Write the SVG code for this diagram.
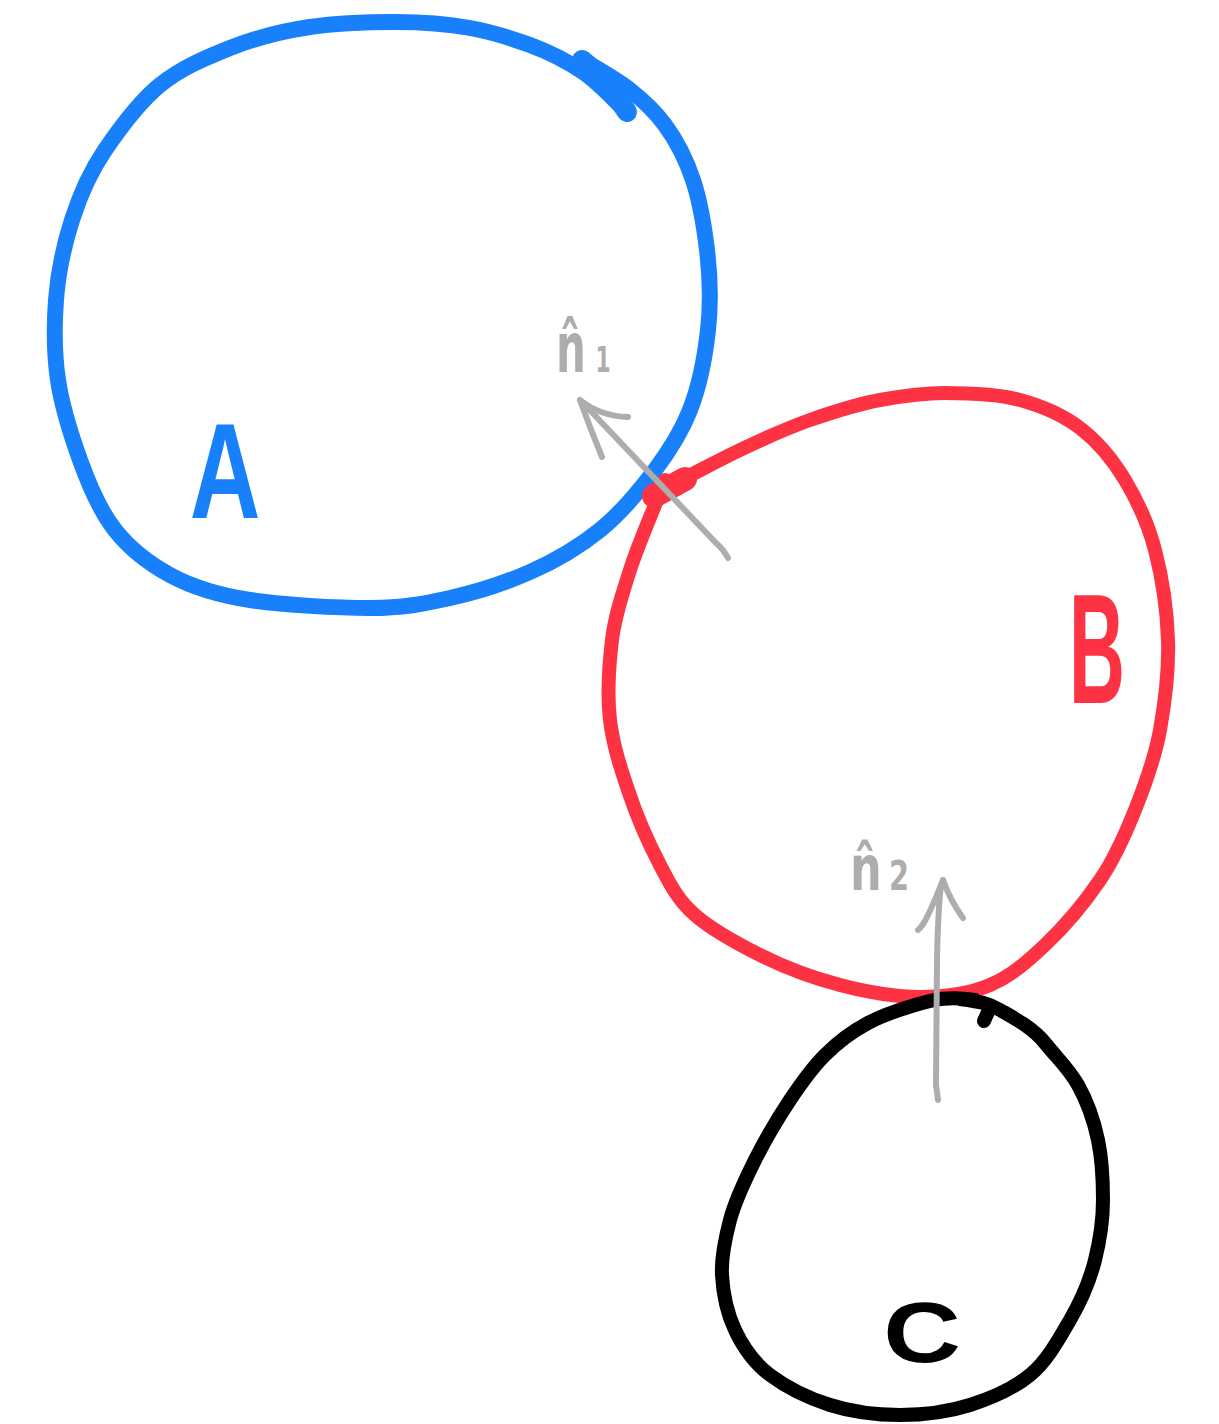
<svg xmlns="http://www.w3.org/2000/svg" width="1219" height="1424" viewBox="0 0 1219 1424">
  <style>
    .loop { fill: none; stroke-linecap: round; stroke-linejoin: round; }
    .blue { stroke: #1880fa; }
    .red { stroke: #fd3344; }
    .black { stroke: #000000; }
    .arrow { fill: none; stroke: #adadad; stroke-width: 6; stroke-linecap: round; stroke-linejoin: round; }
    .label { font-family: "Liberation Sans", "DejaVu Sans", sans-serif; font-weight: bold; text-anchor: middle; }
    .normal { font-family: "DejaVu Sans", "Liberation Sans", sans-serif; font-weight: bold; fill: #adadad; }
  </style>
  <rect width="1219" height="1424" fill="#ffffff"/>

  <!-- body A -->
  <g id="node-A">
    <path class="loop blue" stroke-width="16" d="M628,113 C613,99 599,83 583,72 S549,52 530,45 S492,32 470,28 S422,22 395,22 S337,23 310,27 S255,38 230,48 S181,68 160,85 S120,128 105,150 S80,195 72,220 S58,273 56,300 S54,353 58,380 S71,435 80,460 S100,511 115,530 S148,563 170,575 S217,595 250,600 S337,608 370,608 S423,604 450,598 S505,583 530,572 S579,547 600,530 S640,490 655,470 S681,433 690,410 S705,357 708,330 S710,275 707,250 S700,201 693,180 S676,140 665,125 S644,101 630,90 S599,70 583,60"/>
    <path class="loop blue" stroke-width="20" d="M582,60 Q605,78 627,112"/>
    <text class="label" fill="#1880fa" font-size="136" transform="translate(225,518) scale(0.72,1)">A</text>
  </g>

  <!-- body B -->
  <g id="node-B">
    <path class="loop red" stroke-width="14" d="M685,478 C703,469 719,460 740,450 S787,428 810,420 S858,404 880,400 S922,393 945,393 S998,394 1020,400 S1063,415 1080,428 S1113,460 1125,480 S1148,523 1155,550 S1167,610 1168,640 S1165,702 1160,730 S1145,785 1135,810 S1115,858 1100,880 S1063,928 1045,945 S1011,976 990,985 S945,997 920,997 S867,992 840,985 S784,967 760,955 S712,930 695,915 S671,886 660,865 S636,814 628,790 S613,745 610,720 S609,665 612,640 S623,592 630,570 S649,520 655,505 S662,488 665,480"/>
    <path class="loop red" stroke-width="24" d="M654,496 L685,479"/>
    <text class="label" fill="#fd3344" font-size="155" transform="translate(1097,703) scale(0.5,1)">B</text>
  </g>

  <!-- body C -->
  <g id="node-C">
    <path class="loop black" stroke-width="14" d="M975,1000 C950,996 935,999 915,1005 S883,1015 868,1023 S838,1042 825,1055 S802,1082 790,1100 S765,1140 755,1160 S735,1201 730,1220 S721,1257 722,1275 S727,1313 735,1330 S754,1363 770,1375 S808,1398 830,1405 S877,1415 900,1415 S948,1412 970,1405 S1013,1389 1030,1375 S1059,1339 1070,1320 S1090,1280 1095,1260 S1103,1220 1103,1200 S1102,1159 1098,1140 S1087,1101 1078,1085 S1058,1059 1045,1043 S1012,1017 1000,1010 S982,1002 960,999"/>
    <path class="loop black" stroke-width="14" d="M984,1021 L988,1012"/>
    <text class="label" fill="#000000" font-size="86" transform="translate(922,1362) scale(1.25,1)">C</text>
  </g>

  <!-- contact normals -->
  <g id="connectors">
    <g id="normal-1">
      <path class="arrow" d="M728,558 Q724,550 716,543 L584,404"/>
      <path class="arrow" d="M580,400 Q590,428 602,457"/>
      <path class="arrow" d="M580,400 Q600,416 628,417"/>
      <text class="normal" font-size="70" transform="translate(556,372) scale(0.6,1)">n̂<tspan font-size="36" dx="16">1</tspan></text>
    </g>
    <g id="normal-2">
      <path class="arrow" d="M938,1100 L936,1085 L937,960 Q938,910 941,885"/>
      <path class="arrow" d="M943,880 Q933,905 928,915 Q923,926 918,930"/>
      <path class="arrow" d="M943,880 Q950,900 963,918"/>
      <text class="normal" font-size="62" transform="translate(850,890) scale(0.72,1)">n̂<tspan font-size="40" dx="10">2</tspan></text>
    </g>
  </g>
</svg>
